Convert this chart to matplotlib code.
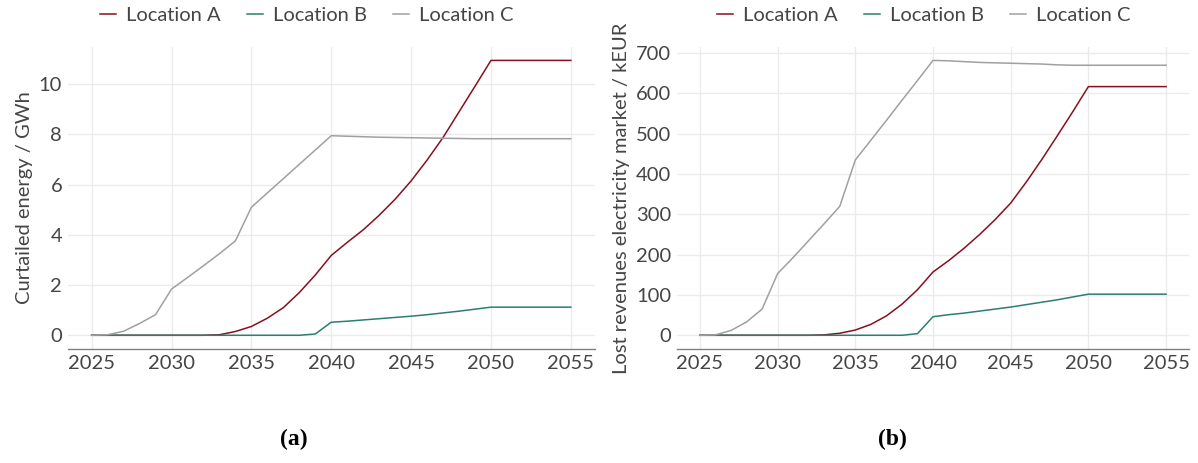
import matplotlib.pyplot as plt

plt.rcParams["font.family"] = ["Lato", "DejaVu Sans"]

TEXT = "#454545"
COLORS = {"Location A": "#86101f", "Location B": "#2a7f72", "Location C": "#a0a0a0"}

years = list(range(2025, 2056))

# curtailed energy / GWh
energy_a = [0, 0, 0, 0, 0, 0, 0, 0, 0.02, 0.15, 0.35, 0.68, 1.1, 1.7, 2.4, 3.18,
            3.7, 4.2, 4.78, 5.42, 6.15, 6.98, 7.88, 8.9, 9.92, 10.95,
            10.95, 10.95, 10.95, 10.95, 10.95]
energy_b = [0, 0, 0, 0, 0, 0, 0, 0, 0, 0, 0, 0, 0, 0, 0.05, 0.52,
            0.56, 0.61, 0.66, 0.71, 0.76, 0.82, 0.89, 0.96, 1.04, 1.12,
            1.12, 1.12, 1.12, 1.12, 1.12]
energy_c = [0, 0.02, 0.16, 0.47, 0.82, 1.84, 2.3, 2.77, 3.25, 3.76, 5.1, 5.67, 6.24, 6.81, 7.38, 7.95,
            7.93, 7.91, 7.89, 7.88, 7.87, 7.86, 7.85, 7.84, 7.83, 7.83,
            7.83, 7.83, 7.83, 7.83, 7.83]

# lost revenues electricity market / kEUR
revenue_a = [0, 0, 0, 0, 0, 0, 0, 0, 1, 5, 13, 27, 48, 77, 113, 157,
             185, 216, 250, 287, 328, 380, 436, 495, 555, 617,
             617, 617, 617, 617, 617]
revenue_b = [0, 0, 0, 0, 0, 0, 0, 0, 0, 0, 0, 0, 0, 0, 4, 46,
             51, 55, 60, 65, 70, 76, 82, 88, 95, 102,
             102, 102, 102, 102, 102]
revenue_c = [0, 1, 12, 33, 65, 153, 193, 235, 277, 320, 435, 484, 533, 583, 632, 682,
             681, 679, 677, 676, 675, 674, 673, 671, 670, 670,
             670, 670, 670, 670, 670]

panels = [
    {"series": {"Location A": energy_a, "Location B": energy_b, "Location C": energy_c},
     "ylabel": "Curtailed energy / GWh", "yticks": [0, 2, 4, 6, 8, 10],
     "rect": [0.0565, 0.2462, 0.440, 0.653], "legend_x": 0.256, "tag": "(a)", "tag_x": 0.245},
    {"series": {"Location A": revenue_a, "Location B": revenue_b, "Location C": revenue_c},
     "ylabel": "Lost revenues electricity market / kEUR", "yticks": [0, 100, 200, 300, 400, 500, 600, 700],
     "rect": [0.5648, 0.2462, 0.428, 0.653], "legend_x": 0.771, "tag": "(b)", "tag_x": 0.745},
]

fig = plt.figure(figsize=(11.98, 4.63), dpi=100)

for p in panels:
    ax = fig.add_axes(p["rect"])
    for name, vals in p["series"].items():
        ax.plot(years, vals, color=COLORS[name], lw=1.1, label=name)

    # ggplot-like 5% expansion
    ymax = max(max(v) for v in p["series"].values())
    ax.set_xlim(2023.5, 2056.5)
    ax.set_ylim(-0.05 * ymax, 1.05 * ymax)
    ax.set_xticks([2025, 2030, 2035, 2040, 2045, 2050, 2055])
    ax.set_yticks(p["yticks"])

    ax.grid(True, color="#ebebeb", lw=1)
    ax.set_axisbelow(True)
    for side in ["left", "right", "top"]:
        ax.spines[side].set_visible(False)
    ax.spines["bottom"].set_color("#808080")
    ax.spines["bottom"].set_linewidth(1)
    ax.tick_params(length=0, labelsize=14.5, labelcolor=TEXT, pad=4)
    ax.set_ylabel(p["ylabel"], fontsize=14.5, color=TEXT, labelpad=4)

    handles, labels = ax.get_legend_handles_labels()
    fig.legend(handles, labels, loc="center", bbox_to_anchor=(p["legend_x"], 0.967),
               ncol=3, frameon=False, fontsize=14.5, labelcolor=TEXT,
               handlelength=0.8, handletextpad=0.5, columnspacing=1.3)

    fig.text(p["tag_x"], 0.05, p["tag"], ha="center", va="center", fontsize=17,
             fontweight="bold", family="Liberation Serif", color="black")

fig.savefig("out.png", dpi=100)
